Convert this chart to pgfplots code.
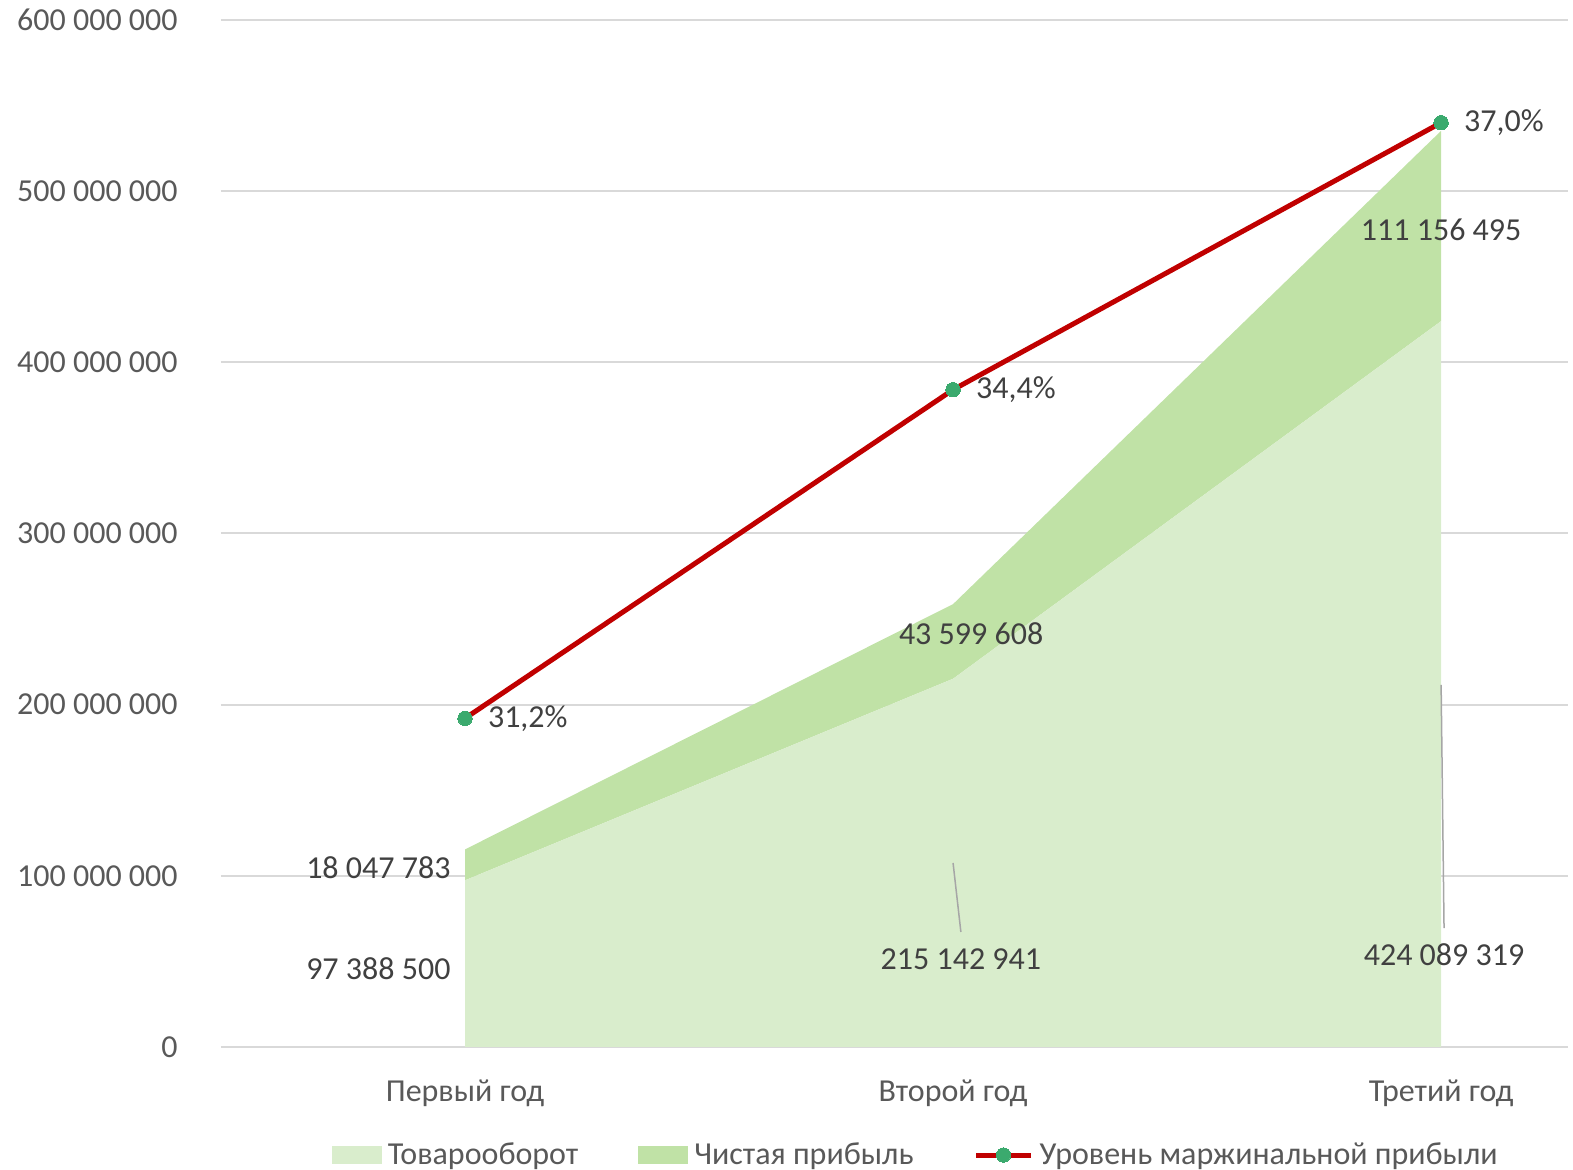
\documentclass[border=0pt]{standalone}
\usepackage{fontspec}
\setmainfont{Carlito}
\usepackage{pgfplots}
\pgfplotsset{compat=1.18}

\definecolor{turnover}{HTML}{D9EDCC}
\definecolor{profit}{HTML}{C0E2A6}
\definecolor{marginred}{HTML}{C00000}
\definecolor{markgreen}{HTML}{3BAA6E}
\definecolor{gridgray}{HTML}{D9D9D9}
\definecolor{ticktext}{HTML}{595959}
\definecolor{labeltext}{HTML}{404040}
\definecolor{leader}{HTML}{A6A6A6}
\newcommand\chartfont{\fontsize{16}{19}\selectfont}

\pgfplotsset{
  base/.style={
    scale only axis, width=673.5pt, height=513.5pt,
    xmin=-0.5, xmax=2.26,
  },
  swatch/.style={
    legend image code/.code={\fill[##1] (0pt,-4.5pt) rectangle (25pt,4.5pt);}
  },
  marginlegend/.style={
    legend image code/.code={
      \draw[##1, mark=none] (0pt,0pt) -- (27.5pt,0pt);
      \draw[##1, draw=none] plot coordinates {(13.75pt,0pt)};}
  },
}

\begin{document}
\begin{tikzpicture}
\begin{axis}[base, name=main,
  ymin=0, ymax=6e8,
  stack plots=y,
  clip=false,
  axis x line=bottom, axis y line=left,
  x axis line style={-, draw=gridgray, line width=1pt},
  y axis line style={draw=none},
  ymajorgrids, grid style={gridgray, line width=1pt},
  major tick length=0,
  ytick={0,1e8,2e8,3e8,4e8,5e8,6e8},
  yticklabels={0,100 000 000,200 000 000,300 000 000,400 000 000,500 000 000,600 000 000},
  xtick={0,1,2},
  xticklabels={Первый год,Второй год,Третий год},
  yticklabel style={anchor=east, inner sep=0pt, xshift=-21.5pt, font=\chartfont, text=ticktext},
  xticklabel style={anchor=base, inner sep=0pt, yshift=-27.5pt, font=\chartfont, text=ticktext},
  legend columns=3,
  legend style={at={(0.515,-0.1052)}, anchor=center, draw=none, fill=none,
    font=\chartfont, text=ticktext,
    /tikz/every odd column/.append style={column sep=3pt},
    /tikz/every even column/.append style={column sep=30pt},
    nodes={inner sep=0pt}},
  legend cell align=left,
]
\addplot[fill=turnover, draw=none, swatch] coordinates {(0,97388500) (1,215142941) (2,424089319)} \closedcycle;
\addlegendentry{Товарооборот}
\addplot[fill=profit, draw=none, swatch] coordinates {(0,18047783) (1,43599608) (2,111156495)} \closedcycle;
\addlegendentry{Чистая прибыль}
\addlegendimage{marginred, line width=2.5pt, mark=*, mark size=3.6pt,
  mark options={fill=markgreen, draw=markgreen, line width=0pt}, marginlegend}
\addlegendentry{Уровень маржинальной прибыли}

% label anchors, drawn after the axes so that the areas do not hide them
\coordinate (t0) at (axis cs:-0.029,45.5e6);
\coordinate (p0) at (axis cs:-0.029,104.5e6);
\coordinate (t1) at (axis cs:1.016,51.4e6);
\coordinate (p1) at (axis cs:1.037,241.3e6);
\coordinate (t2) at (axis cs:2.006,53.7e6);
\coordinate (p2) at (axis cs:2.0,477.3e6);
\coordinate (a1) at (axis cs:1,107.5e6);
\coordinate (b1) at (axis cs:1.016,67.2e6);
\coordinate (a2) at (axis cs:2,211.5e6);
\coordinate (b2) at (axis cs:2.006,69.5e6);
\end{axis}

\begin{axis}[base,
  ymin=0.28, ymax=0.38,
  hide axis,
  clip=false,
  nodes near coords,
  point meta=explicit symbolic,
  nodes near coords style={anchor=west, inner sep=0pt, xshift=11.5pt, font=\chartfont, text=labeltext},
]
\addplot[marginred, line width=2.5pt, mark=*, mark size=3.6pt,
  mark options={fill=markgreen, draw=markgreen, line width=0pt}]
  coordinates {(0,0.312)[31,2\%] (1,0.344)[34,4\%] (2,0.370)[37,0\%]};
\end{axis}

\tikzset{lab/.style={font=\chartfont, text=labeltext, inner sep=0pt}}
\draw[leader, line width=0.75pt] (a1) -- (b1);
\draw[leader, line width=0.75pt] (a2) -- (b2);
\node[lab, anchor=east] at (t0) {97 388 500};
\node[lab, anchor=east] at (p0) {18 047 783};
\node[lab] at (t1) {215 142 941};
\node[lab] at (p1) {43 599 608};
\node[lab] at (t2) {424 089 319};
\node[lab] at (p2) {111 156 495};

\pgfresetboundingbox
\path ([shift={(-110.5pt,-61.5pt)}]main.south west) rectangle ([shift={(2.5pt,10pt)}]main.north east);
\end{tikzpicture}
\end{document}
